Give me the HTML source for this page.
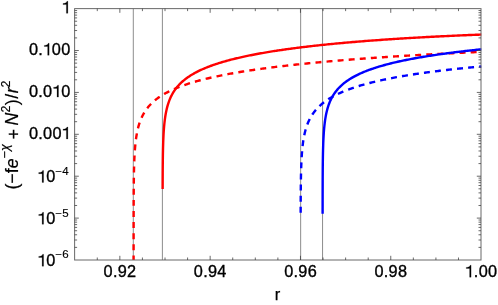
<!DOCTYPE html>
<html><head><meta charset="utf-8"><title>plot</title>
<style>
html,body{margin:0;padding:0;background:#fff;}
body{width:498px;height:305px;overflow:hidden;font-family:"Liberation Sans",sans-serif;}
svg{display:block;will-change:transform;}
svg text{font-family:"Liberation Sans",sans-serif;fill:#000;stroke:#000;stroke-width:0.35px;}
svg text.t{letter-spacing:0.3px;}
svg .s{stroke-width:0.15px;}
</style></head><body>
<svg width="498" height="305" viewBox="0 0 498 305">
<rect width="498" height="305" fill="#fff"/>
<g stroke="#808080" stroke-width="0.9" fill="none">
<line x1="133.30" y1="8.62" x2="133.30" y2="260.00"/>
<line x1="162.40" y1="8.62" x2="162.40" y2="260.00"/>
<line x1="300.65" y1="8.62" x2="300.65" y2="260.00"/>
<line x1="322.55" y1="8.62" x2="322.55" y2="260.00"/>
</g>
<path d="M162.64 189.09 L162.64 188.07 L162.65 187.06 L162.65 186.04 L162.65 185.03 L162.66 184.01 L162.66 183.00 L162.66 181.98 L162.67 180.97 L162.67 179.96 L162.67 178.94 L162.68 177.93 L162.68 176.91 L162.69 175.90 L162.69 174.88 L162.70 173.87 L162.70 172.85 L162.71 171.84 L162.72 170.83 L162.72 169.81 L162.73 168.80 L162.74 167.78 L162.75 166.77 L162.76 165.75 L162.77 164.74 L162.78 163.72 L162.79 162.71 L162.80 161.69 L162.81 160.68 L162.82 159.66 L162.84 158.65 L162.85 157.64 L162.87 156.62 L162.88 155.61 L162.90 154.59 L162.92 153.58 L162.94 152.56 L162.96 151.55 L162.98 150.53 L163.00 149.52 L163.03 148.50 L163.05 147.49 L163.08 146.47 L163.11 145.46 L163.14 144.44 L163.17 143.43 L163.20 142.41 L163.24 141.40 L163.28 140.38 L163.32 139.37 L163.36 138.35 L163.41 137.34 L163.46 136.32 L163.51 135.31 L163.56 134.29 L163.62 133.28 L163.68 132.26 L163.75 131.25 L163.82 130.23 L163.89 129.22 L163.97 128.20 L164.05 127.19 L164.14 126.17 L164.23 125.16 L164.33 124.14 L164.43 123.13 L164.54 122.11 L164.66 121.09 L164.78 120.08 L164.91 119.06 L165.05 118.05 L165.20 117.03 L165.36 116.01 L165.52 115.00 L165.70 113.98 L165.88 112.96 L166.08 111.95 L166.29 110.93 L166.51 109.91 L166.75 108.90 L167.00 107.88 L167.26 106.86 L167.54 105.85 L167.84 104.83 L168.15 103.81 L168.49 102.79 L168.84 101.77 L169.18 100.83 L169.55 99.89 L169.93 98.95 L170.34 98.01 L170.77 97.07 L171.22 96.13 L171.70 95.19 L172.20 94.25 L172.73 93.30 L173.25 92.44 L173.78 91.58 L174.35 90.71 L174.95 89.85 L175.57 88.98 L176.23 88.12 L176.85 87.33 L177.51 86.55 L178.19 85.76 L178.91 84.97 L179.66 84.18 L180.44 83.40 L181.18 82.69 L181.94 81.98 L182.74 81.27 L183.57 80.56 L184.44 79.85 L185.24 79.22 L186.06 78.58 L186.92 77.95 L187.81 77.32 L188.73 76.69 L189.57 76.13 L190.43 75.58 L191.32 75.03 L192.23 74.47 L193.18 73.92 L194.16 73.36 L195.16 72.81 L196.05 72.33 L196.97 71.86 L197.91 71.38 L198.87 70.91 L199.86 70.43 L200.88 69.96 L201.92 69.48 L203.00 69.00 L204.10 68.53 L205.04 68.13 L206.01 67.74 L206.99 67.34 L208.00 66.94 L209.03 66.54 L210.08 66.15 L211.16 65.75 L212.27 65.35 L213.39 64.96 L214.55 64.56 L215.73 64.16 L216.69 63.84 L217.67 63.53 L218.67 63.21 L219.68 62.89 L220.72 62.57 L221.77 62.25 L222.84 61.94 L223.93 61.62 L225.05 61.30 L226.18 60.98 L227.33 60.67 L228.50 60.35 L229.70 60.03 L230.91 59.71 L232.15 59.40 L233.41 59.08 L234.70 58.76 L235.67 58.52 L236.66 58.28 L237.67 58.05 L238.69 57.81 L239.72 57.57 L240.76 57.33 L241.82 57.10 L242.90 56.86 L243.99 56.62 L245.09 56.38 L246.21 56.15 L247.34 55.91 L248.49 55.67 L249.66 55.43 L250.84 55.20 L252.04 54.96 L253.25 54.72 L254.48 54.49 L255.72 54.25 L256.99 54.01 L258.27 53.78 L259.56 53.54 L260.88 53.30 L262.21 53.07 L263.56 52.83 L264.93 52.60 L266.32 52.36 L267.73 52.12 L269.15 51.89 L270.60 51.65 L272.06 51.42 L273.55 51.18 L274.55 51.03 L275.56 50.87 L276.58 50.72 L277.61 50.56 L278.64 50.40 L279.69 50.25 L280.75 50.09 L281.81 49.94 L282.89 49.78 L283.97 49.63 L285.07 49.47 L286.17 49.31 L287.29 49.16 L288.41 49.00 L289.55 48.85 L290.69 48.69 L291.85 48.54 L293.01 48.39 L294.19 48.23 L295.38 48.08 L296.57 47.92 L297.78 47.77 L299.00 47.62 L300.23 47.46 L301.47 47.31 L302.73 47.15 L303.99 47.00 L305.27 46.85 L306.55 46.70 L307.85 46.54 L309.16 46.39 L310.48 46.24 L311.82 46.09 L313.16 45.93 L314.52 45.78 L315.89 45.63 L317.28 45.48 L318.67 45.33 L320.08 45.18 L321.50 45.03 L322.93 44.88 L324.38 44.73 L325.84 44.58 L327.31 44.43 L328.80 44.28 L330.30 44.13 L331.81 43.98 L333.34 43.83 L334.88 43.68 L336.43 43.54 L338.00 43.39 L339.58 43.24 L341.18 43.09 L342.79 42.95 L344.41 42.80 L346.05 42.65 L347.71 42.51 L349.38 42.36 L351.06 42.22 L352.76 42.07 L354.48 41.93 L356.21 41.78 L357.96 41.64 L359.72 41.49 L361.50 41.35 L363.29 41.21 L365.10 41.06 L366.93 40.92 L368.77 40.78 L370.63 40.64 L372.51 40.50 L374.40 40.36 L376.31 40.22 L378.24 40.08 L380.18 39.94 L382.15 39.80 L384.13 39.66 L386.13 39.52 L387.13 39.46 L388.14 39.39 L389.16 39.32 L390.18 39.25 L391.20 39.18 L392.23 39.11 L393.26 39.05 L394.30 38.98 L395.34 38.91 L396.39 38.84 L397.44 38.78 L398.50 38.71 L399.56 38.64 L400.63 38.57 L401.70 38.51 L402.78 38.44 L403.86 38.37 L404.94 38.31 L406.03 38.24 L407.13 38.17 L408.23 38.11 L409.33 38.04 L410.44 37.98 L411.56 37.91 L412.68 37.84 L413.81 37.78 L414.94 37.71 L416.07 37.65 L417.21 37.58 L418.36 37.52 L419.51 37.46 L420.66 37.39 L421.83 37.33 L422.99 37.26 L424.16 37.20 L425.34 37.13 L426.52 37.07 L427.71 37.01 L428.91 36.94 L430.10 36.88 L431.31 36.82 L432.52 36.76 L433.73 36.69 L434.95 36.63 L436.18 36.57 L437.41 36.51 L438.65 36.44 L439.89 36.38 L441.14 36.32 L442.39 36.26 L443.65 36.20 L444.91 36.14 L446.18 36.08 L447.46 36.02 L448.74 35.96 L450.03 35.90 L451.32 35.84 L452.62 35.78 L453.93 35.72 L455.24 35.66 L456.56 35.60 L457.88 35.54 L459.21 35.48 L460.54 35.42 L461.88 35.36 L463.23 35.31 L464.58 35.25 L465.94 35.19 L467.31 35.13 L468.68 35.07 L470.05 35.02 L471.44 34.96 L472.83 34.90 L474.22 34.85 L475.63 34.79 L477.04 34.74 L478.45 34.68 L479.87 34.62 L481.30 34.57 L481.30 34.57" fill="none" stroke="#ff0000" stroke-width="2.4" stroke-linejoin="round"/>
<path d="M133.60 260.00 L133.60 258.96 L133.60 257.92 L133.60 256.88 L133.60 255.85 L133.60 254.81 L133.60 253.77 L133.60 252.73 L133.60 251.70 L133.60 250.66 L133.60 249.62 L133.60 248.58 L133.61 247.54 L133.61 246.51 L133.61 245.47 L133.61 244.43 L133.61 243.39 L133.61 242.36 L133.61 241.32 L133.61 240.28 L133.61 239.24 L133.61 238.21 L133.61 237.17 L133.61 236.13 L133.61 235.09 L133.61 234.06 L133.61 233.02 L133.61 231.98 L133.61 230.94 L133.61 229.90 L133.61 228.87 L133.62 227.83 L133.62 226.79 L133.62 225.75 L133.62 224.72 L133.62 223.68 L133.62 222.64 L133.62 221.60 L133.62 220.57 L133.63 219.53 L133.63 218.49 L133.63 217.45 L133.63 216.42 L133.63 215.38 L133.63 214.34 L133.64 213.30 L133.64 212.27 L133.64 211.23 L133.64 210.19 L133.64 209.15 L133.65 208.11 L133.65 207.08 L133.65 206.04 L133.66 205.00 L133.66 203.96 L133.66 202.93 L133.67 201.89 L133.67 200.85 L133.68 199.81 L133.68 198.78 L133.69 197.74 L133.69 196.70 L133.70 195.66 L133.70 194.63 L133.71 193.59 L133.72 192.55 L133.72 191.51 L133.73 190.48 L133.74 189.44 L133.75 188.40 L133.75 187.36 L133.76 186.32 L133.77 185.29 L133.78 184.25 L133.80 183.21 L133.81 182.17 L133.82 181.14 L133.83 180.10 L133.85 179.06 L133.86 178.02 L133.88 176.99 L133.89 175.95 L133.91 174.91 L133.93 173.87 L133.95 172.84 L133.97 171.80 L134.00 170.76 L134.02 169.72 L134.04 168.69 L134.07 167.65 L134.10 166.61 L134.13 165.57 L134.16 164.53 L134.20 163.50 L134.23 162.46 L134.27 161.42 L134.31 160.38 L134.35 159.35 L134.40 158.31 L134.45 157.27 L134.50 156.23 L134.55 155.20 L134.61 154.16 L134.67 153.12 L134.74 152.08 L134.81 151.05 L134.88 150.01 L134.96 148.97 L135.04 147.93 L135.13 146.90 L135.22 145.86 L135.32 144.82 L135.42 143.78 L135.53 142.75 L135.65 141.71 L135.77 140.67 L135.90 139.63 L136.04 138.60 L136.19 137.56 L136.35 136.52 L136.52 135.48 L136.69 134.45 L136.88 133.41 L137.08 132.37 L137.29 131.33 L137.51 130.30 L137.75 129.26 L138.00 128.22 L138.26 127.18 L138.55 126.15 L138.85 125.11 L139.14 124.15 L139.45 123.19 L139.77 122.24 L140.12 121.28 L140.48 120.32 L140.86 119.36 L141.27 118.41 L141.70 117.45 L142.15 116.49 L142.62 115.54 L143.13 114.58 L143.61 113.70 L144.12 112.82 L144.66 111.95 L145.22 111.07 L145.81 110.19 L146.44 109.31 L147.09 108.44 L147.71 107.64 L148.37 106.84 L149.05 106.04 L149.76 105.25 L150.51 104.45 L151.21 103.73 L151.94 103.01 L152.71 102.29 L153.50 101.58 L154.33 100.86 L155.19 100.14 L155.98 99.50 L156.80 98.87 L157.66 98.23 L158.54 97.59 L159.46 96.95 L160.29 96.39 L161.15 95.84 L162.04 95.28 L162.95 94.72 L163.89 94.16 L164.87 93.60 L165.87 93.05 L166.76 92.57 L167.67 92.09 L168.61 91.61 L169.57 91.13 L170.56 90.65 L171.57 90.18 L172.62 89.70 L173.69 89.22 L174.79 88.74 L175.73 88.34 L176.70 87.94 L177.68 87.55 L178.69 87.15 L179.72 86.75 L180.77 86.35 L181.85 85.95 L182.95 85.55 L184.08 85.16 L185.24 84.76 L186.42 84.36 L187.38 84.04 L188.36 83.72 L189.36 83.40 L190.38 83.08 L191.41 82.76 L192.47 82.45 L193.54 82.13 L194.63 81.81 L195.75 81.49 L196.88 81.17 L198.04 80.85 L199.21 80.53 L200.41 80.22 L201.63 79.90 L202.87 79.58 L204.13 79.26 L205.42 78.94 L206.40 78.70 L207.39 78.46 L208.40 78.22 L209.42 77.98 L210.45 77.75 L211.50 77.51 L212.57 77.27 L213.65 77.03 L214.74 76.79 L215.85 76.55 L216.97 76.31 L218.11 76.07 L219.26 75.83 L220.43 75.60 L221.61 75.36 L222.82 75.12 L224.03 74.88 L225.27 74.64 L226.52 74.40 L227.79 74.16 L229.07 73.92 L230.38 73.69 L231.70 73.45 L233.04 73.21 L234.39 72.97 L235.77 72.73 L237.16 72.49 L238.58 72.25 L240.01 72.01 L241.46 71.78 L242.94 71.54 L243.93 71.38 L244.93 71.22 L245.94 71.06 L246.96 70.90 L247.99 70.74 L249.03 70.58 L250.08 70.42 L251.13 70.27 L252.20 70.11 L253.28 69.95 L254.36 69.79 L255.46 69.63 L256.57 69.47 L257.68 69.31 L258.81 69.15 L259.95 69.00 L261.09 68.84 L262.25 68.68 L263.42 68.52 L264.60 68.36 L265.79 68.20 L266.99 68.04 L268.20 67.88 L269.42 67.73 L270.65 67.57 L271.90 67.41 L273.15 67.25 L274.42 67.09 L275.70 66.93 L276.99 66.77 L278.29 66.62 L279.61 66.46 L280.93 66.30 L282.27 66.14 L283.62 65.98 L284.98 65.83 L286.36 65.67 L287.74 65.51 L289.14 65.35 L290.55 65.19 L291.98 65.03 L293.42 64.88 L294.87 64.72 L296.33 64.56 L297.81 64.40 L299.30 64.25 L300.81 64.09 L302.32 63.93 L303.86 63.77 L305.40 63.62 L306.96 63.46 L308.54 63.30 L310.12 63.14 L311.73 62.99 L313.34 62.83 L314.98 62.67 L316.62 62.52 L318.28 62.36 L319.96 62.20 L321.65 62.04 L323.36 61.89 L325.08 61.73 L326.82 61.58 L328.58 61.42 L330.35 61.26 L332.13 61.11 L333.94 60.95 L335.75 60.79 L337.59 60.64 L339.44 60.48 L341.31 60.33 L343.20 60.17 L345.10 60.02 L347.02 59.86 L348.96 59.71 L350.91 59.55 L352.89 59.40 L354.88 59.24 L355.88 59.17 L356.89 59.09 L357.90 59.01 L358.91 58.93 L359.93 58.86 L360.96 58.78 L361.99 58.70 L363.02 58.63 L364.06 58.55 L365.11 58.47 L366.16 58.40 L367.21 58.32 L368.27 58.24 L369.33 58.17 L370.40 58.09 L371.47 58.01 L372.55 57.94 L373.63 57.86 L374.72 57.78 L375.81 57.71 L376.91 57.63 L378.01 57.56 L379.12 57.48 L380.23 57.40 L381.34 57.33 L382.47 57.25 L383.59 57.18 L384.73 57.10 L385.86 57.02 L387.01 56.95 L388.15 56.87 L389.31 56.80 L390.47 56.72 L391.63 56.65 L392.80 56.57 L393.97 56.50 L395.15 56.42 L396.34 56.35 L397.53 56.27 L398.72 56.20 L399.92 56.12 L401.13 56.05 L402.34 55.97 L403.56 55.90 L404.78 55.82 L406.01 55.75 L407.24 55.67 L408.48 55.60 L409.73 55.52 L410.98 55.45 L412.23 55.38 L413.50 55.30 L414.76 55.23 L416.04 55.15 L417.32 55.08 L418.60 55.01 L419.89 54.93 L421.19 54.86 L422.49 54.79 L423.80 54.71 L425.11 54.64 L426.44 54.57 L427.76 54.49 L429.09 54.42 L430.43 54.35 L431.78 54.28 L433.13 54.20 L434.48 54.13 L435.85 54.06 L437.22 53.99 L438.59 53.92 L439.97 53.84 L441.36 53.77 L442.75 53.70 L444.15 53.63 L445.56 53.56 L446.97 53.49 L448.39 53.42 L449.82 53.34 L451.25 53.27 L452.69 53.20 L454.14 53.13 L455.59 53.06 L457.05 52.99 L458.51 52.92 L459.98 52.85 L461.46 52.78 L462.95 52.71 L464.44 52.64 L465.94 52.57 L467.44 52.50 L468.95 52.44 L470.47 52.37 L472.00 52.30 L473.53 52.23 L475.07 52.16 L476.62 52.09 L478.17 52.03 L479.73 51.96 L481.30 51.89 L481.30 51.89" fill="none" stroke="#ff0000" stroke-width="2.4" stroke-linejoin="round" stroke-dasharray="5.96 5.15" stroke-dashoffset="1.4"/>
<path d="M322.61 213.73 L322.61 212.70 L322.61 211.68 L322.61 210.65 L322.61 209.62 L322.61 208.59 L322.62 207.56 L322.62 206.54 L322.62 205.51 L322.62 204.48 L322.62 203.45 L322.62 202.43 L322.62 201.40 L322.62 200.37 L322.63 199.34 L322.63 198.31 L322.63 197.29 L322.63 196.26 L322.63 195.23 L322.63 194.20 L322.64 193.17 L322.64 192.15 L322.64 191.12 L322.64 190.09 L322.65 189.06 L322.65 188.04 L322.65 187.01 L322.66 185.98 L322.66 184.95 L322.66 183.92 L322.67 182.90 L322.67 181.87 L322.67 180.84 L322.68 179.81 L322.68 178.79 L322.69 177.76 L322.69 176.73 L322.70 175.70 L322.71 174.67 L322.71 173.65 L322.72 172.62 L322.73 171.59 L322.73 170.56 L322.74 169.53 L322.75 168.51 L322.76 167.48 L322.77 166.45 L322.78 165.42 L322.79 164.40 L322.80 163.37 L322.82 162.34 L322.83 161.31 L322.84 160.28 L322.86 159.26 L322.88 158.23 L322.89 157.20 L322.91 156.17 L322.93 155.15 L322.95 154.12 L322.97 153.09 L322.99 152.06 L323.02 151.03 L323.04 150.01 L323.07 148.98 L323.10 147.95 L323.13 146.92 L323.16 145.90 L323.20 144.87 L323.23 143.84 L323.27 142.81 L323.31 141.78 L323.36 140.76 L323.41 139.73 L323.45 138.70 L323.51 137.67 L323.56 136.65 L323.62 135.62 L323.68 134.59 L323.75 133.56 L323.82 132.53 L323.90 131.51 L323.98 130.48 L324.06 129.45 L324.15 128.42 L324.25 127.40 L324.35 126.37 L324.45 125.34 L324.57 124.31 L324.69 123.29 L324.82 122.26 L324.95 121.23 L325.10 120.20 L325.25 119.18 L325.42 118.15 L325.59 117.12 L325.77 116.09 L325.97 115.07 L326.17 114.04 L326.39 113.01 L326.63 111.98 L326.87 110.96 L327.14 109.93 L327.41 108.90 L327.71 107.88 L328.02 106.85 L328.33 105.90 L328.66 104.94 L329.00 103.99 L329.37 103.03 L329.75 102.08 L330.16 101.13 L330.59 100.17 L331.04 99.22 L331.52 98.27 L332.03 97.32 L332.53 96.44 L333.05 95.56 L333.59 94.68 L334.17 93.80 L334.78 92.92 L335.42 92.04 L336.03 91.23 L336.67 90.43 L337.35 89.62 L338.06 88.82 L338.80 88.01 L339.50 87.28 L340.24 86.55 L341.00 85.81 L341.81 85.08 L342.64 84.35 L343.42 83.69 L344.24 83.03 L345.08 82.38 L345.96 81.72 L346.87 81.06 L347.71 80.47 L348.58 79.89 L349.48 79.31 L350.42 78.72 L351.38 78.14 L352.25 77.63 L353.15 77.11 L354.07 76.60 L355.02 76.09 L356.00 75.58 L357.02 75.07 L358.06 74.56 L358.97 74.12 L359.92 73.69 L360.88 73.25 L361.87 72.81 L362.89 72.37 L363.93 71.94 L365.00 71.50 L366.10 71.06 L367.03 70.70 L367.99 70.34 L368.96 69.97 L369.96 69.61 L370.98 69.25 L372.02 68.88 L373.09 68.52 L374.17 68.16 L375.28 67.79 L376.42 67.43 L377.57 67.07 L378.76 66.71 L379.72 66.42 L380.70 66.13 L381.70 65.84 L382.72 65.55 L383.75 65.26 L384.80 64.97 L385.87 64.68 L386.95 64.39 L388.06 64.10 L389.18 63.81 L390.33 63.52 L391.49 63.23 L392.67 62.94 L393.88 62.66 L395.10 62.37 L396.35 62.08 L397.61 61.79 L398.90 61.50 L399.88 61.29 L400.88 61.07 L401.88 60.86 L402.90 60.64 L403.93 60.42 L404.98 60.21 L406.04 59.99 L407.11 59.78 L408.20 59.56 L409.30 59.35 L410.41 59.13 L411.54 58.92 L412.68 58.70 L413.84 58.49 L415.01 58.27 L416.20 58.06 L417.41 57.84 L418.62 57.63 L419.86 57.41 L421.11 57.20 L422.38 56.99 L423.66 56.77 L424.96 56.56 L426.27 56.35 L427.61 56.13 L428.96 55.92 L430.32 55.71 L431.71 55.49 L433.11 55.28 L434.53 55.07 L435.97 54.85 L437.43 54.64 L438.90 54.43 L439.90 54.29 L440.90 54.15 L441.91 54.00 L442.93 53.86 L443.96 53.72 L445.00 53.58 L446.05 53.44 L447.10 53.30 L448.17 53.16 L449.24 53.02 L450.32 52.88 L451.42 52.73 L452.52 52.59 L453.63 52.45 L454.75 52.31 L455.88 52.17 L457.02 52.03 L458.17 51.89 L459.33 51.75 L460.50 51.61 L461.68 51.47 L462.87 51.33 L464.07 51.19 L465.28 51.05 L466.50 50.91 L467.73 50.77 L468.97 50.63 L470.22 50.49 L471.48 50.36 L472.75 50.22 L474.04 50.08 L475.33 49.94 L476.64 49.80 L477.96 49.66 L479.29 49.52 L480.63 49.38 L481.30 49.32" fill="none" stroke="#0000ff" stroke-width="2.4" stroke-linejoin="round"/>
<path d="M300.65 212.75 L300.65 211.68 L300.65 210.61 L300.66 209.54 L300.66 208.48 L300.66 207.41 L300.67 206.34 L300.67 205.27 L300.68 204.20 L300.68 203.14 L300.68 202.07 L300.69 201.00 L300.70 199.93 L300.70 198.87 L300.71 197.80 L300.71 196.73 L300.72 195.66 L300.73 194.60 L300.74 193.53 L300.75 192.46 L300.75 191.39 L300.76 190.33 L300.77 189.26 L300.79 188.19 L300.80 187.12 L300.81 186.05 L300.82 184.99 L300.84 183.92 L300.85 182.85 L300.87 181.78 L300.88 180.72 L300.90 179.65 L300.92 178.58 L300.94 177.51 L300.96 176.44 L300.98 175.38 L301.01 174.31 L301.03 173.24 L301.06 172.17 L301.09 171.11 L301.12 170.04 L301.15 168.97 L301.18 167.90 L301.22 166.83 L301.26 165.77 L301.30 164.70 L301.34 163.63 L301.39 162.56 L301.44 161.49 L301.49 160.43 L301.54 159.36 L301.60 158.29 L301.66 157.22 L301.73 156.15 L301.80 155.09 L301.87 154.02 L301.95 152.95 L302.04 151.88 L302.13 150.81 L302.22 149.75 L302.32 148.68 L302.43 147.61 L302.54 146.54 L302.66 145.47 L302.79 144.40 L302.92 143.41 L303.05 142.42 L303.19 141.43 L303.34 140.44 L303.50 139.44 L303.66 138.45 L303.84 137.46 L304.03 136.47 L304.22 135.47 L304.43 134.48 L304.65 133.49 L304.88 132.49 L305.13 131.50 L305.39 130.51 L305.67 129.52 L305.96 128.52 L306.27 127.53 L306.59 126.54 L306.94 125.54 L307.30 124.55 L307.69 123.55 L308.09 122.56 L308.52 121.57 L308.94 120.65 L309.39 119.73 L309.85 118.81 L310.34 117.90 L310.86 116.98 L311.40 116.06 L311.97 115.14 L312.52 114.30 L313.10 113.46 L313.71 112.62 L314.34 111.77 L315.01 110.93 L315.71 110.09 L316.37 109.32 L317.06 108.56 L317.79 107.79 L318.54 107.02 L319.33 106.26 L320.07 105.57 L320.84 104.88 L321.64 104.19 L322.47 103.50 L323.33 102.81 L324.13 102.19 L324.95 101.58 L325.80 100.97 L326.69 100.35 L327.60 99.74 L328.54 99.12 L329.40 98.59 L330.28 98.05 L331.19 97.51 L332.12 96.97 L333.08 96.44 L334.08 95.90 L335.10 95.36 L336.00 94.90 L336.93 94.44 L337.88 93.98 L338.85 93.52 L339.85 93.06 L340.88 92.60 L341.93 92.14 L343.01 91.68 L344.12 91.22 L345.07 90.83 L346.03 90.45 L347.02 90.07 L348.03 89.68 L349.06 89.30 L350.11 88.92 L351.19 88.53 L352.29 88.15 L353.41 87.77 L354.56 87.38 L355.73 87.00 L356.69 86.69 L357.66 86.39 L358.65 86.08 L359.66 85.77 L360.69 85.47 L361.73 85.16 L362.79 84.86 L363.87 84.55 L364.97 84.24 L366.08 83.94 L367.22 83.63 L368.38 83.33 L369.55 83.02 L370.75 82.72 L371.97 82.41 L373.20 82.11 L374.46 81.80 L375.75 81.50 L376.72 81.27 L377.71 81.04 L378.71 80.81 L379.73 80.58 L380.75 80.36 L381.80 80.13 L382.85 79.90 L383.92 79.67 L385.00 79.45 L386.10 79.22 L387.21 78.99 L388.33 78.76 L389.47 78.54 L390.62 78.31 L391.79 78.08 L392.98 77.86 L394.18 77.63 L395.39 77.40 L396.62 77.18 L397.87 76.95 L399.13 76.73 L400.41 76.50 L401.71 76.28 L403.02 76.05 L404.35 75.83 L405.70 75.60 L407.07 75.38 L408.45 75.15 L409.85 74.93 L411.27 74.70 L412.70 74.48 L414.16 74.26 L415.63 74.04 L416.63 73.89 L417.63 73.74 L418.64 73.59 L419.66 73.44 L420.69 73.29 L421.73 73.15 L422.77 73.00 L423.83 72.85 L424.89 72.70 L425.97 72.56 L427.05 72.41 L428.14 72.26 L429.25 72.12 L430.36 71.97 L431.48 71.82 L432.61 71.68 L433.75 71.53 L434.90 71.38 L436.06 71.24 L437.23 71.09 L438.41 70.95 L439.60 70.80 L440.80 70.66 L442.01 70.51 L443.23 70.37 L444.47 70.22 L445.71 70.08 L446.96 69.94 L448.23 69.79 L449.50 69.65 L450.79 69.51 L452.09 69.36 L453.40 69.22 L454.72 69.08 L456.05 68.93 L457.39 68.79 L458.74 68.65 L460.11 68.51 L461.49 68.37 L462.88 68.23 L464.28 68.09 L465.69 67.94 L467.12 67.80 L468.56 67.66 L470.01 67.53 L471.47 67.39 L472.95 67.25 L474.44 67.11 L475.94 66.97 L477.46 66.83 L478.98 66.69 L480.52 66.56 L481.30 66.49" fill="none" stroke="#0000ff" stroke-width="2.4" stroke-linejoin="round" stroke-dasharray="5.97 5.14" stroke-dashoffset="0"/>
<g stroke="#686868" stroke-width="1.0" fill="none">
<rect x="74.62" y="8.62" width="406.38" height="251.38"/>
</g>
<path stroke="#3a3a3a" stroke-width="0.75" fill="none" d="M97.27 260.00 L97.27 257.50 M97.27 8.62 L97.27 11.12 M119.85 260.00 L119.85 255.80 M119.85 8.62 L119.85 12.82 M142.42 260.00 L142.42 257.50 M142.42 8.62 L142.42 11.12 M165.00 260.00 L165.00 257.50 M165.00 8.62 L165.00 11.12 M187.58 260.00 L187.58 257.50 M187.58 8.62 L187.58 11.12 M210.15 260.00 L210.15 255.80 M210.15 8.62 L210.15 12.82 M232.73 260.00 L232.73 257.50 M232.73 8.62 L232.73 11.12 M255.30 260.00 L255.30 257.50 M255.30 8.62 L255.30 11.12 M277.88 260.00 L277.88 257.50 M277.88 8.62 L277.88 11.12 M300.46 260.00 L300.46 255.80 M300.46 8.62 L300.46 12.82 M323.03 260.00 L323.03 257.50 M323.03 8.62 L323.03 11.12 M345.61 260.00 L345.61 257.50 M345.61 8.62 L345.61 11.12 M368.19 260.00 L368.19 257.50 M368.19 8.62 L368.19 11.12 M390.76 260.00 L390.76 255.80 M390.76 8.62 L390.76 12.82 M413.34 260.00 L413.34 257.50 M413.34 8.62 L413.34 11.12 M435.92 260.00 L435.92 257.50 M435.92 8.62 L435.92 11.12 M458.49 260.00 L458.49 257.50 M458.49 8.62 L458.49 11.12 M74.62 50.52 L78.82 50.52 M481.00 50.52 L476.80 50.52 M74.62 37.90 L77.12 37.90 M481.00 37.90 L478.50 37.90 M74.62 30.53 L77.12 30.53 M481.00 30.53 L478.50 30.53 M74.62 25.29 L77.12 25.29 M481.00 25.29 L478.50 25.29 M74.62 21.23 L77.12 21.23 M481.00 21.23 L478.50 21.23 M74.62 17.91 L77.12 17.91 M481.00 17.91 L478.50 17.91 M74.62 15.11 L77.12 15.11 M481.00 15.11 L478.50 15.11 M74.62 12.68 L77.12 12.68 M481.00 12.68 L478.50 12.68 M74.62 10.54 L77.12 10.54 M481.00 10.54 L478.50 10.54 M74.62 92.41 L78.82 92.41 M481.00 92.41 L476.80 92.41 M74.62 79.80 L77.12 79.80 M481.00 79.80 L478.50 79.80 M74.62 72.42 L77.12 72.42 M481.00 72.42 L478.50 72.42 M74.62 67.19 L77.12 67.19 M481.00 67.19 L478.50 67.19 M74.62 63.13 L77.12 63.13 M481.00 63.13 L478.50 63.13 M74.62 59.81 L77.12 59.81 M481.00 59.81 L478.50 59.81 M74.62 57.01 L77.12 57.01 M481.00 57.01 L478.50 57.01 M74.62 54.58 L77.12 54.58 M481.00 54.58 L478.50 54.58 M74.62 52.43 L77.12 52.43 M481.00 52.43 L478.50 52.43 M74.62 134.31 L78.82 134.31 M481.00 134.31 L476.80 134.31 M74.62 121.70 L77.12 121.70 M481.00 121.70 L478.50 121.70 M74.62 114.32 L77.12 114.32 M481.00 114.32 L478.50 114.32 M74.62 109.09 L77.12 109.09 M481.00 109.09 L478.50 109.09 M74.62 105.03 L77.12 105.03 M481.00 105.03 L478.50 105.03 M74.62 101.71 L77.12 101.71 M481.00 101.71 L478.50 101.71 M74.62 98.90 L77.12 98.90 M481.00 98.90 L478.50 98.90 M74.62 96.47 L77.12 96.47 M481.00 96.47 L478.50 96.47 M74.62 94.33 L77.12 94.33 M481.00 94.33 L478.50 94.33 M74.62 176.21 L78.82 176.21 M481.00 176.21 L476.80 176.21 M74.62 163.59 L77.12 163.59 M481.00 163.59 L478.50 163.59 M74.62 156.22 L77.12 156.22 M481.00 156.22 L478.50 156.22 M74.62 150.98 L77.12 150.98 M481.00 150.98 L478.50 150.98 M74.62 146.92 L77.12 146.92 M481.00 146.92 L478.50 146.92 M74.62 143.60 L77.12 143.60 M481.00 143.60 L478.50 143.60 M74.62 140.80 L77.12 140.80 M481.00 140.80 L478.50 140.80 M74.62 138.37 L77.12 138.37 M481.00 138.37 L478.50 138.37 M74.62 136.23 L77.12 136.23 M481.00 136.23 L478.50 136.23 M74.62 218.10 L78.82 218.10 M481.00 218.10 L476.80 218.10 M74.62 205.49 L77.12 205.49 M481.00 205.49 L478.50 205.49 M74.62 198.11 L77.12 198.11 M481.00 198.11 L478.50 198.11 M74.62 192.88 L77.12 192.88 M481.00 192.88 L478.50 192.88 M74.62 188.82 L77.12 188.82 M481.00 188.82 L478.50 188.82 M74.62 185.50 L77.12 185.50 M481.00 185.50 L478.50 185.50 M74.62 182.70 L77.12 182.70 M481.00 182.70 L478.50 182.70 M74.62 180.27 L77.12 180.27 M481.00 180.27 L478.50 180.27 M74.62 178.12 L77.12 178.12 M481.00 178.12 L478.50 178.12 M74.62 247.39 L77.12 247.39 M481.00 247.39 L478.50 247.39 M74.62 240.01 L77.12 240.01 M481.00 240.01 L478.50 240.01 M74.62 234.78 L77.12 234.78 M481.00 234.78 L478.50 234.78 M74.62 230.72 L77.12 230.72 M481.00 230.72 L478.50 230.72 M74.62 227.40 L77.12 227.40 M481.00 227.40 L478.50 227.40 M74.62 224.59 L77.12 224.59 M481.00 224.59 L478.50 224.59 M74.62 222.16 L77.12 222.16 M481.00 222.16 L478.50 222.16 M74.62 220.02 L77.12 220.02 M481.00 220.02 L478.50 220.02"/>
<text x="103.54" y="277.20" font-size="16.3" class="t">0.92</text>
<text x="193.84" y="277.20" font-size="16.3" class="t">0.94</text>
<text x="284.15" y="277.20" font-size="16.3" class="t">0.96</text>
<text x="374.45" y="277.20" font-size="16.3" class="t">0.98</text>
<path d="M471.09 277.20L469.62 277.20L469.62 268.48L466.20 268.48L466.20 267.39C468.45 267.35 469.97 266.69 470.18 265.22L471.09 265.22Z" fill="#000" stroke="#000" stroke-width="0.21"/><text x="473.83" y="277.20" font-size="16.3" class="t">.00</text>
<path d="M67.86 13.32L66.39 13.32L66.39 4.60L62.97 4.60L62.97 3.51C65.22 3.47 66.74 2.81 66.95 1.34L67.86 1.34Z" fill="#000" stroke="#000" stroke-width="0.21"/>
<text x="28.90" y="55.22" font-size="16.3" class="t">0.</text><path d="M49.14 55.22L47.67 55.22L47.67 46.50L44.25 46.50L44.25 45.40C46.50 45.37 48.01 44.70 48.22 43.24L49.14 43.24Z" fill="#000" stroke="#000" stroke-width="0.21"/><text x="51.87" y="55.22" font-size="16.3" class="t">00</text>
<text x="28.90" y="97.11" font-size="16.3" class="t">0.0</text><path d="M58.50 97.11L57.03 97.11L57.03 88.39L53.61 88.39L53.61 87.30C55.86 87.27 57.37 86.60 57.59 85.13L58.50 85.13Z" fill="#000" stroke="#000" stroke-width="0.21"/><text x="61.24" y="97.11" font-size="16.3" class="t">0</text>
<text x="28.90" y="139.01" font-size="16.3" class="t">0.00</text><path d="M67.86 139.01L66.39 139.01L66.39 130.29L62.97 130.29L62.97 129.20C65.22 129.16 66.74 128.50 66.95 127.03L67.86 127.03Z" fill="#000" stroke="#000" stroke-width="0.21"/>
<path d="M43.59 182.41L42.12 182.41L42.12 173.69L38.70 173.69L38.70 172.59C40.95 172.56 42.46 171.89 42.68 170.43L43.59 170.43Z" fill="#000" stroke="#000" stroke-width="0.21"/><text x="46.33" y="182.41" font-size="16.3" class="t">0</text><text x="55.19" y="174.61" font-size="11.5" class="t" style="stroke-width:0.15px">−4</text>
<path d="M43.59 224.30L42.12 224.30L42.12 215.58L38.70 215.58L38.70 214.49C40.95 214.46 42.46 213.79 42.68 212.32L43.59 212.32Z" fill="#000" stroke="#000" stroke-width="0.21"/><text x="46.33" y="224.30" font-size="16.3" class="t">0</text><text x="55.19" y="216.50" font-size="11.5" class="t" style="stroke-width:0.15px">−5</text>
<path d="M43.59 266.20L42.12 266.20L42.12 257.48L38.70 257.48L38.70 256.39C40.95 256.35 42.46 255.69 42.68 254.22L43.59 254.22Z" fill="#000" stroke="#000" stroke-width="0.21"/><text x="46.33" y="266.20" font-size="16.3" class="t">0</text><text x="55.19" y="258.40" font-size="11.5" class="t" style="stroke-width:0.15px">−6</text>
<text x="277.40" y="300.20" font-size="16.5" text-anchor="middle" style="stroke-width:0.25px">r</text>
<text transform="translate(17.50 135.00) rotate(-90)" font-size="17.8" text-anchor="middle" style="stroke-width:0.2px">(−f<tspan font-style="italic">e</tspan><tspan font-size="12.6" dy="-8.700000000000001" class="s">−<tspan font-style="italic">χ</tspan></tspan><tspan dy="8.700000000000001"> </tspan><tspan dy="2.2">+</tspan><tspan dy="-2.2"> </tspan><tspan font-style="italic" dx="-1.5">N</tspan><tspan font-size="12.6" dy="-7.4" dx="0.2" class="s">2</tspan><tspan dy="7.4" dx="0.2">)</tspan><tspan dx="0.6">/</tspan><tspan font-style="italic" dx="0.4">r</tspan><tspan font-size="12.6" dy="-7.4" class="s">2</tspan></text>
</svg>
</body></html>
